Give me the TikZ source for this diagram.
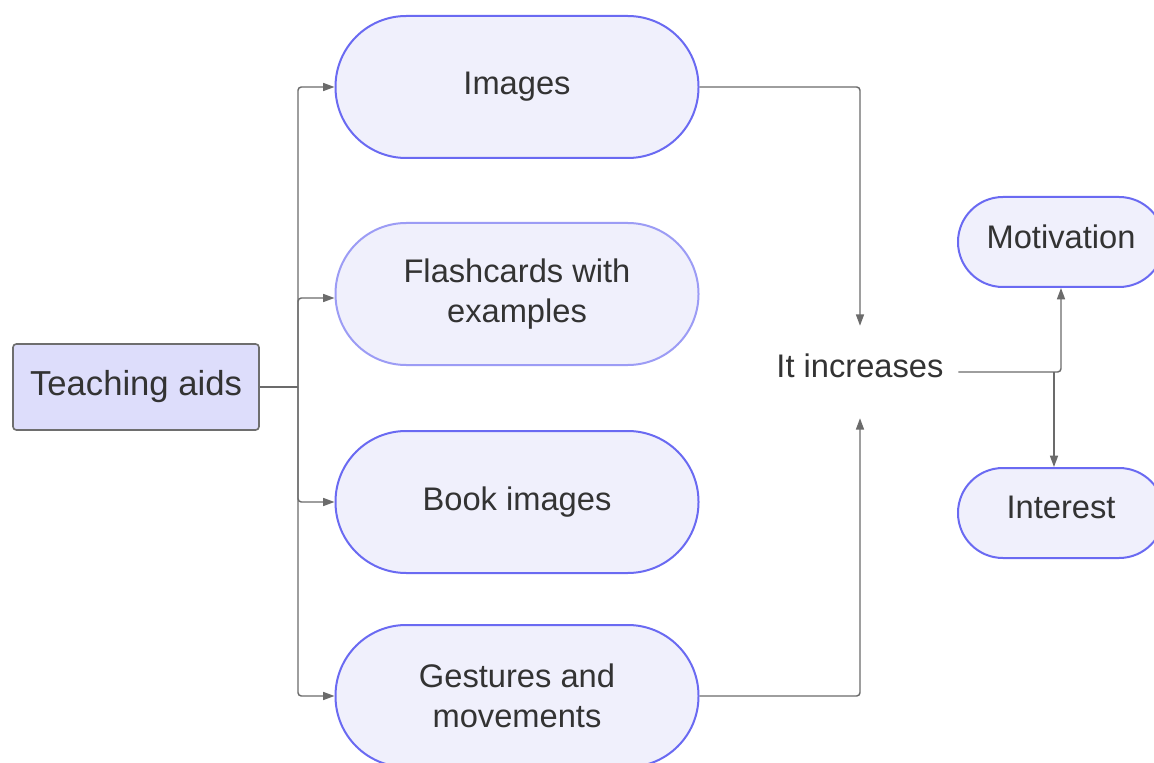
\documentclass[tikz,border=0pt]{standalone}
\usepackage{fontspec}
\setmainfont{Liberation Sans}
\usetikzlibrary{arrows.meta}
\definecolor{pillfill}{HTML}{F0F0FC}
\definecolor{pilldraw}{HTML}{6A6AF2}
\definecolor{pilldrawlight}{HTML}{9C9CF5}
\definecolor{tafill}{HTML}{DDDDFB}
\definecolor{tadraw}{HTML}{6E6E6E}
\definecolor{txt}{HTML}{333333}
\definecolor{conncol}{HTML}{6B6B6B}
\tikzset{
  pill/.style={draw=pilldraw, fill=pillfill, line width=1.5pt, rounded corners=53pt,
    minimum width=272.25pt, minimum height=106.5pt, align=center, text=txt,
    font=\fontsize{24.5pt}{30pt}\selectfont, inner sep=0pt},
  smallpill/.style={pill, rounded corners=33.7pt, minimum width=154.5pt, minimum height=67.5pt,
    text depth=8.5pt},
  tabox/.style={draw=tadraw, fill=tafill, line width=1.2pt, rounded corners=2.5pt,
    minimum width=184.5pt, minimum height=64.5pt, text=txt,
    font=\fontsize{26pt}{30pt}\selectfont, inner sep=0pt},
  plain/.style={text=txt, font=\fontsize{24.5pt}{30pt}\selectfont,
    minimum width=147pt, minimum height=69pt, inner sep=0pt, text depth=9pt},
  conn/.style={draw=conncol, line width=1.1pt, rounded corners=2.5pt},
  arrowconn/.style={conn, -{Triangle[length=8.5pt,width=6pt]}}
}
\begin{document}
\begin{tikzpicture}[x=0.75pt, y=-0.75pt]
\clip (0,0) rectangle (1154,763);
\fill[white] (0,0) rectangle (1154,763);

\node[tabox] (ta) at (136,387) {Teaching aids};

\node[pill] (img) at (517,87) {Images};
\node[pill, draw=pilldrawlight] (flash) at (517,294) {Flashcards with\\examples};
\node[pill] (book) at (517,502) {Book images};
\node[pill] (gest) at (517,696) {Gestures and\\movements};

\node[plain] (inc) at (860,372) {It increases};

\node[smallpill] (mot) at (1061,242) {Motivation};
\node[smallpill] (int) at (1061,513) {Interest};

\coordinate (trunk) at (298,387);
\draw[conn] (ta.east) -- (trunk);
\draw[arrowconn] (trunk) |- (img.west);
\draw[arrowconn] (trunk) |- ([yshift=-3pt]flash.west);
\draw[arrowconn] (trunk) |- (book.west);
\draw[arrowconn] (trunk) |- (gest.west);

\draw[arrowconn] (img.east) -| (inc.north);
\draw[arrowconn] (gest.east) -| (inc.south);

\coordinate (split) at (1054,372);
\draw[arrowconn] (inc.east) -| (mot.south);
\draw[arrowconn] (split) -- (split |- int.north);
\end{tikzpicture}
\end{document}
